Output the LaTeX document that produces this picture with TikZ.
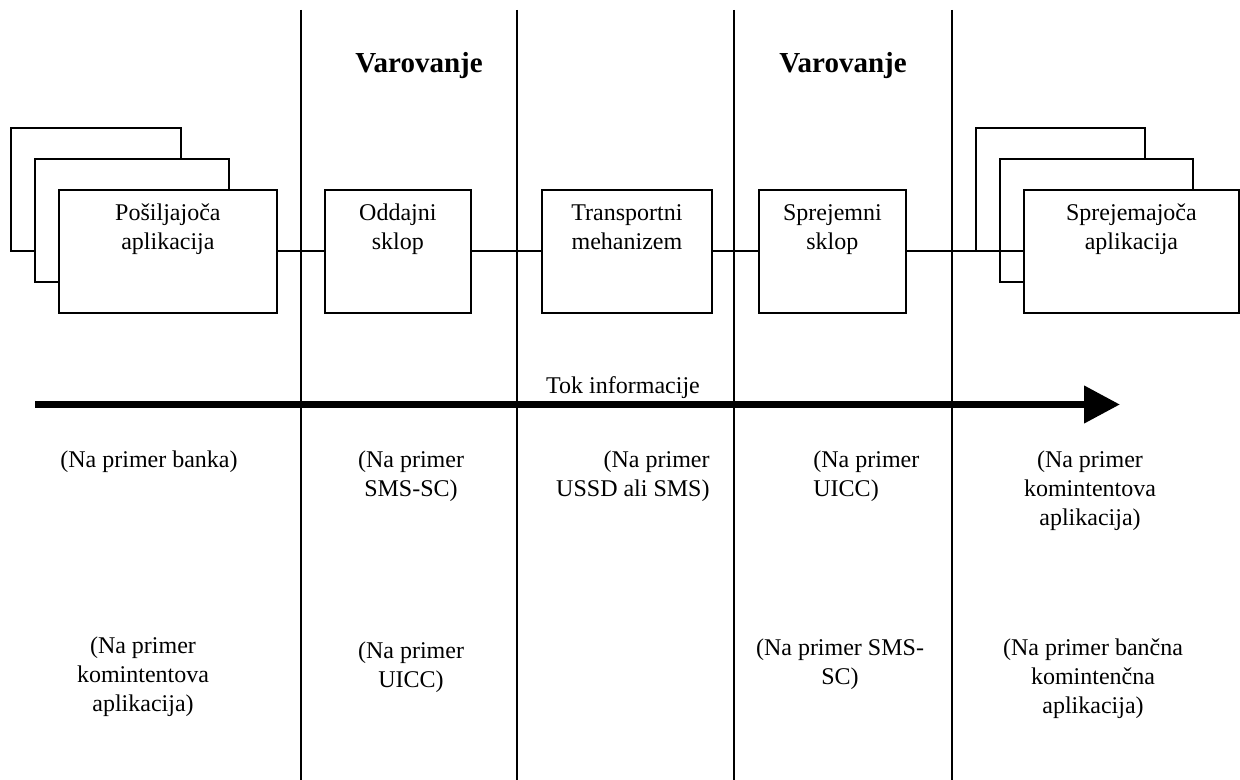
\documentclass[tikz,border=0pt]{standalone}
\usepackage{fontspec}
\setmainfont{Liberation Serif}
\usetikzlibrary{arrows.meta, positioning}

\tikzset{
  blok/.style={draw, fill=white, line width=0.9pt, inner sep=0pt, anchor=north west, minimum height=61.5pt},
  napis/.style={inner sep=0pt, align=center, anchor=base, font=\fontsize{12}{14.5}\selectfont},
  naslov/.style={inner sep=0pt, anchor=base, font=\fontsize{14.5}{17}\selectfont\bfseries},
  meja/.style={line width=0.9pt},
  povezava/.style={line width=0.9pt}
}

\begin{document}
\begin{tikzpicture}[x=0.5pt,y=-0.5pt]
\useasboundingbox (0,0) rectangle (1240,780);

% meje med podrocji
\draw[meja] (301,10) -- (301,780);
\draw[meja] (517,10) -- (517,780);
\draw[meja] (734,10) -- (734,780);
\draw[meja] (952,10) -- (952,780);

\node[naslov] (var1) at (419,73) {Varovanje};
\node[naslov] (var2) at (843,73) {Varovanje};

% posiljajoca aplikacija
\node[blok, minimum width=85pt] (posA) at (10,127) {};
\node[blok, minimum width=97pt] (posB) at (34,158) {};
\node[blok, minimum width=109pt] (posC) at (58,189) {};
\node[napis, below=30.5pt of posC.north, anchor=base] (posT) {Pošiljajoča\\aplikacija};

% sklopi
\node[blok, minimum width=73pt] (odd) at (324,189) {};
\node[napis, below=30.5pt of odd.north, anchor=base] (oddT) {Oddajni\\sklop};
\node[blok, minimum width=85pt] (tra) at (541,189) {};
\node[napis, below=30.5pt of tra.north, anchor=base] (traT) {Transportni\\mehanizem};
\node[blok, minimum width=73.5pt] (spr) at (758,189) {};
\node[napis, below=30.5pt of spr.north, anchor=base] (sprT) {Sprejemni\\sklop};

% sprejemajoca aplikacija
\node[blok, minimum width=84.5pt] (preA) at (975,127) {};
\node[blok, minimum width=96.5pt] (preB) at (999,158) {};
\node[blok, minimum width=107.5pt] (preC) at (1023,189) {};
\node[napis, below=30.5pt of preC.north, anchor=base] (preT) {Sprejemajoča\\aplikacija};

% povezave
\draw[povezava] (posC.east) -- (odd.west);
\draw[povezava] (odd.east) -- (tra.west);
\draw[povezava] (tra.east) -- (spr.west);
\draw[povezava] (spr.east) -- (preC.west);

% tok informacije
\coordinate (tokA) at (35,404.5);
\coordinate (tokB) at (1120,404.5);
\draw[line width=3.75pt, -{Triangle[length=18pt, width=18pt]}] (tokA) -- (tokB);
\node[napis] (tok) at (623,393) {Tok informacije};

% primeri (base = zadnja vrstica)
\node[napis] (pr1) at (149,467) {(Na primer banka)};
\node[napis] (pr2) at (411,496) {(Na primer\\SMS-SC)};
\node[napis, align=right, anchor=base east] (pr3) at (710,496) {(Na primer\\USSD ali SMS)};
\node[napis, align=left, anchor=base west] (pr4) at (813,496) {(Na primer\\UICC)};
\node[napis] (pr5) at (1090,525) {(Na primer\\komintentova\\aplikacija)};

\node[napis] (pr6) at (143,711) {(Na primer\\komintentova\\aplikacija)};
\node[napis] (pr7) at (411,687) {(Na primer\\UICC)};
\node[napis] (pr8) at (840,684) {(Na primer SMS-\\SC)};
\node[napis] (pr9) at (1093,713) {(Na primer bančna\\komintenčna\\aplikacija)};
\end{tikzpicture}
\end{document}
